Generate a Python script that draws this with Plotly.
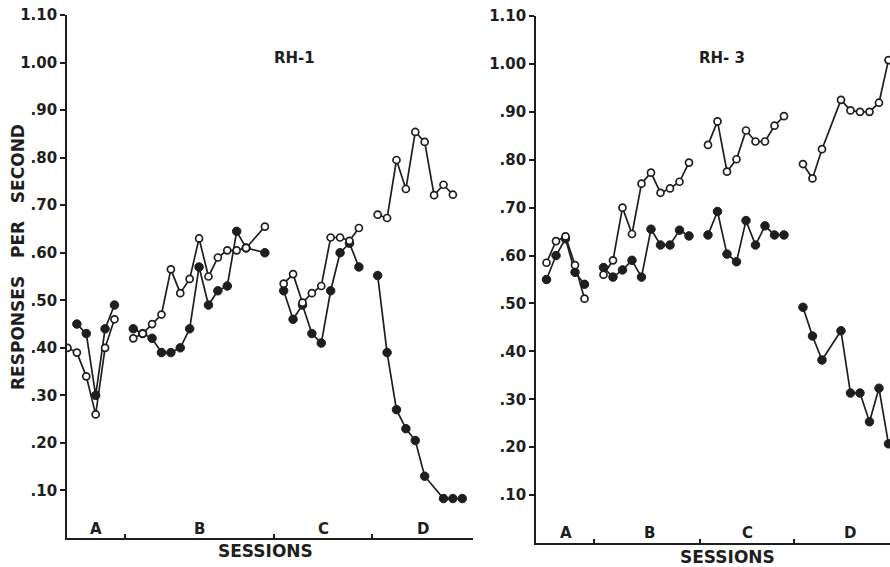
import plotly.graph_objects as go

# ---------------- data ----------------
# Left panel (RH-1): session numbers and responses per second
L_A_filled_x = [1, 2, 3, 4, 5]
L_A_filled_y = [0.45, 0.43, 0.30, 0.44, 0.49]
L_A_open_x = [0, 1, 2, 3, 4, 5]
L_A_open_y = [0.40, 0.39, 0.34, 0.26, 0.40, 0.46]

L_B_filled_x = [7, 8, 9, 10, 11, 12, 13, 14, 15, 16, 17, 18, 19, 21]
L_B_filled_y = [0.44, 0.43, 0.42, 0.39, 0.39, 0.40, 0.44, 0.57, 0.49, 0.52, 0.53, 0.645, 0.61, 0.60]
L_B_open_x = [7, 8, 9, 10, 11, 12, 13, 14, 15, 16, 17, 18, 19, 21]
L_B_open_y = [0.42, 0.43, 0.45, 0.47, 0.565, 0.515, 0.545, 0.63, 0.55, 0.59, 0.605, 0.605, 0.61, 0.655]

L_C_x = [23, 24, 25, 26, 27, 28, 29, 30, 31]
L_C_filled_y = [0.52, 0.46, 0.49, 0.43, 0.41, 0.52, 0.60, 0.62, 0.57]
L_C_open_y = [0.535, 0.555, 0.495, 0.515, 0.53, 0.632, 0.632, 0.625, 0.652]

L_D_filled_x = [33, 34, 35, 36, 37, 38, 40, 41, 42]
L_D_filled_y = [0.552, 0.39, 0.27, 0.23, 0.205, 0.13, 0.083, 0.083, 0.083]
L_D_open_x = [33, 34, 35, 36, 37, 38, 39, 40, 41]
L_D_open_y = [0.68, 0.673, 0.795, 0.734, 0.854, 0.833, 0.721, 0.743, 0.722]

# Right panel (RH-3)
R_A_x = [1, 2, 3, 4, 5]
R_A_filled_y = [0.55, 0.60, 0.635, 0.565, 0.54]
R_A_open_y = [0.585, 0.63, 0.64, 0.58, 0.51]

R_B_x = [7, 8, 9, 10, 11, 12, 13, 14, 15, 16]
R_B_filled_y = [0.575, 0.555, 0.57, 0.59, 0.555, 0.655, 0.622, 0.622, 0.653, 0.641]
R_B_open_y = [0.56, 0.59, 0.70, 0.645, 0.75, 0.773, 0.731, 0.74, 0.754, 0.794]

R_C_x = [18, 19, 20, 21, 22, 23, 24, 25, 26]
R_C_filled_y = [0.643, 0.692, 0.603, 0.587, 0.673, 0.622, 0.662, 0.643, 0.643]
R_C_open_y = [0.831, 0.88, 0.775, 0.801, 0.861, 0.838, 0.838, 0.871, 0.891]

R_D_x = [28, 29, 30, 32, 33, 34, 35, 36, 37]
R_D_filled_y = [0.492, 0.432, 0.382, 0.443, 0.313, 0.313, 0.253, 0.323, 0.207]
R_D_open_y = [0.791, 0.761, 0.822, 0.925, 0.903, 0.90, 0.90, 0.919, 1.008]

# axis annotations
y_tick_vals = [0.1, 0.2, 0.3, 0.4, 0.5, 0.6, 0.7, 0.8, 0.9, 1.0, 1.1]
y_tick_text = [".10", ".20", ".30", ".40", ".50", ".60", ".70", ".80", ".90", "1.00", "1.10"]
phase_labels = ["A", "B", "C", "D"]
L_phase_pos = [3.0, 14.0, 27.2, 37.8]
R_phase_pos = [3.05, 11.8, 22.2, 32.9]
L_boundaries = [6.07, 22.0, 32.35]
R_boundaries = [6.0, 17.16, 27.1]

# ---------------- figure ----------------
INK = "#1e1e1e"
FONT = "DejaVu Sans"
W, H = 890, 567   # page body margin removed by post_script, figure fills the window
OFF = 0


def fx(p):   # page x pixel -> paper fraction
    return (p - OFF) / W


def fy(p):   # page y pixel -> paper fraction
    return (H - (p - OFF)) / H


def join(segments):
    xs, ys = [], []
    for sx, sy in segments:
        if xs:
            xs.append(None)
            ys.append(None)
        xs.extend(sx)
        ys.extend(sy)
    return xs, ys


fig = go.Figure()

panels = [
    ("x", "y",
     [(L_A_filled_x, L_A_filled_y), (L_B_filled_x, L_B_filled_y), (L_C_x, L_C_filled_y), (L_D_filled_x, L_D_filled_y)],
     [(L_A_open_x, L_A_open_y), (L_B_open_x, L_B_open_y), (L_C_x, L_C_open_y), (L_D_open_x, L_D_open_y)]),
    ("x2", "y2",
     [(R_A_x, R_A_filled_y), (R_B_x, R_B_filled_y), (R_C_x, R_C_filled_y), (R_D_x, R_D_filled_y)],
     [(R_A_x, R_A_open_y), (R_B_x, R_B_open_y), (R_C_x, R_C_open_y), (R_D_x, R_D_open_y)]),
]

for xa, ya, filled, opened in panels:
    fxs, fys = join(filled)
    oxs, oys = join(opened)
    fig.add_trace(go.Scatter(x=fxs, y=fys, xaxis=xa, yaxis=ya, mode="lines+markers",
                             connectgaps=False, showlegend=False,
                             line=dict(color=INK, width=1.7),
                             marker=dict(symbol="circle", size=8.5, color=INK,
                                         line=dict(color=INK, width=1))))
    fig.add_trace(go.Scatter(x=oxs, y=oys, xaxis=xa, yaxis=ya, mode="lines+markers",
                             connectgaps=False, showlegend=False,
                             line=dict(color=INK, width=1.7),
                             marker=dict(symbol="circle", size=7, color="white",
                                         line=dict(color=INK, width=1.7))))

yaxis_common = dict(range=[0, 1.10], tickvals=y_tick_vals, ticktext=y_tick_text,
                    ticks="outside", ticklen=5, tickwidth=1.6, tickcolor=INK,
                    showline=True, linecolor=INK, linewidth=1.7,
                    showgrid=False, zeroline=False, automargin=False,
                    ticklabeloverflow="allow",
                    tickfont=dict(family=FONT, size=15, color=INK, weight="bold"))
xaxis_common = dict(showline=True, linecolor=INK, linewidth=1.7, showgrid=False,
                    zeroline=False, ticks="inside", ticklen=4, tickwidth=1.6,
                    tickcolor=INK, showticklabels=False, automargin=False)

fig.update_layout(
    width=W, height=H,
    margin=dict(l=0, r=0, t=0, b=0, autoexpand=False),
    paper_bgcolor="white", plot_bgcolor="white",
    xaxis=dict(domain=[fx(67), fx(473)], range=[-0.05, 43.14],
               tickvals=L_boundaries, anchor="y", **xaxis_common),
    yaxis=dict(domain=[fy(538), fy(15)], anchor="x", **yaxis_common),
    xaxis2=dict(domain=[fx(536), 1.0], range=[-0.105, 37.16],
                tickvals=R_boundaries, anchor="y2", **xaxis_common),
    yaxis2=dict(domain=[fy(543), fy(16)], anchor="x2", **yaxis_common),
)

bold = dict(family=FONT, color=INK, weight="bold")
ann = []


def label(x, y, xref, text, size, **kw):
    ann.append(dict(x=x, y=y, xref=xref, yref="paper", text=text, showarrow=False,
                    xanchor="center", yanchor="middle", font=dict(size=size, **bold), **kw))


for lab, px in zip(phase_labels, L_phase_pos):
    label(px, fy(529), "x", lab, 15)
for lab, px in zip(phase_labels, R_phase_pos):
    label(px, fy(533), "x2", lab, 15)

label(24.2, fy(58), "x", "RH-1", 15)
label(19.5, fy(58), "x2", "RH- 3", 15)
label(21.1, fy(551), "x", "SESSIONS", 17)
label(20.1, fy(557), "x2", "SESSIONS", 17)
label(fx(18), fy(257), "paper",
      "RESPONSES\u00a0\u00a0\u00a0PER\u00a0\u00a0\u00a0SECOND", 17, textangle=-90)

fig.update_layout(annotations=ann)

fig.write_html("out.html",
               config={"displayModeBar": False},
               post_script="document.body.style.margin='0';document.body.style.overflow='hidden';")
